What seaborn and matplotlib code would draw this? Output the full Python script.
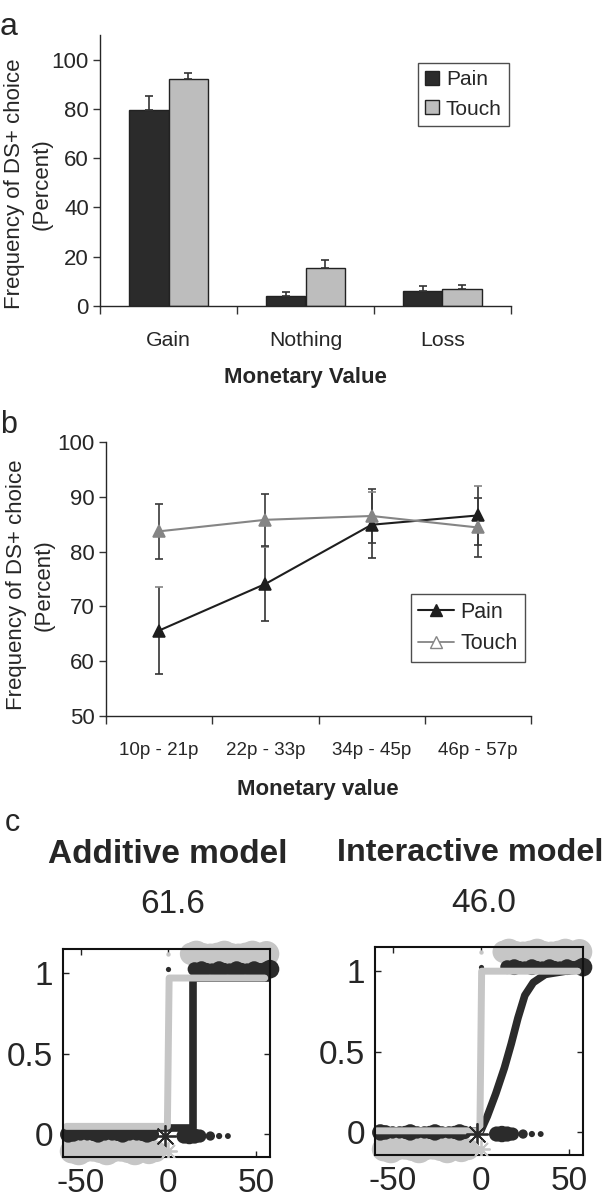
import matplotlib
matplotlib.use('Agg')
import matplotlib.pyplot as plt
from matplotlib import font_manager
from matplotlib.lines import Line2D
from matplotlib.patches import Patch
import pandas as pd
import seaborn as sns

# panel a: DS+ choice by monetary value
value_types = ['Gain', 'Nothing', 'Loss']
pain_choice = [79.6, 4.2, 6.2]
pain_sem = [5.6, 1.6, 1.9]
touch_choice = [92.2, 15.3, 6.8]
touch_sem = [2.4, 3.3, 1.7]

# panel b: DS+ choice by gain size
value_bins = ['10p - 21p', '22p - 33p', '34p - 45p', '46p - 57p']
pain_bin_choice = [65.6, 74.1, 84.9, 86.6]
pain_bin_sem = [8.0, 6.7, 6.0, 5.4]
touch_bin_choice = [83.7, 85.8, 86.5, 84.4]
touch_bin_sem = [5.0, 4.8, 4.9, 5.3]

# panel c: observed choices (shared by both models), counts give the blob size
pain_avoid_x = [-57, -54, -50, -46, -43, -40, -36, -32, -29, -26, -22, -18, -15, -12, -9]
pain_avoid_n = [14, 11, 8, 8, 9, 14, 8, 8, 9, 14, 8, 8, 9, 14, 9]
touch_avoid_x = [-55, -51, -47, -43, -39, -35, -31, -27, -23, -19, -15, -11, -7]
touch_avoid_n = [30, 40, 24, 22, 28, 40, 24, 22, 28, 40, 24, 34, 24]
pain_accept_x = [15, 19, 22, 25, 29, 32, 35, 39, 42, 45, 49, 52, 55, 58]
pain_accept_n = [10, 13, 8, 7, 13, 8, 7, 13, 8, 7, 13, 8, 10, 18]
touch_accept_x = [13, 16, 20, 24, 28, 32, 36, 40, 44, 48, 52, 56]
touch_accept_n = [26, 36, 24, 22, 26, 36, 24, 22, 26, 36, 26, 34]
pain_mixed_x = [9, 12, 15, 18, 24, 29, 34]
pain_mixed_n = [12, 14, 12, 9, 4.5, 2, 1.8]

# panel c: model fits
add_pain_x = [-58, 14, 14, 58]
add_pain_y = [0.04, 0.04, 0.97, 0.97]
add_touch_x = [-58, -0.5, 0.5, 55]
add_touch_y = [0.05, 0.05, 0.97, 0.97]
int_pain_x = [-58, 0, 3.7, 8.5, 13.4, 17.3, 21.1, 25, 29.8, 36.6, 48, 58]
int_pain_y = [0.0, 0.01, 0.10, 0.24, 0.40, 0.55, 0.71, 0.85, 0.93, 0.98, 1.0, 1.01]
int_touch_x = [-59, -0.5, 0.5, 55]
int_touch_y = [0.01, 0.01, 1.0, 1.0]

DARK = '#2b2b2b'
LIGHT = '#c6c6c6'
BAR_GRAY = '#bdbdbd'
MID = '#858585'

sns.set_style('ticks')
plt.rcParams['font.family'] = ['Liberation Sans', 'DejaVu Sans']
plt.rcParams['axes.linewidth'] = 1.0
plt.rcParams['axes.unicode_minus'] = False

installed = {f.name for f in font_manager.fontManager.ttflist}
if 'Liberation Sans Narrow' in installed:
    bin_font, bin_size = ['Liberation Sans Narrow', 'Liberation Sans'], 15.5
else:
    bin_font, bin_size = ['Liberation Sans', 'DejaVu Sans'], 13.5

fig = plt.figure(figsize=(6.04, 11.99), dpi=100)
W, H = 604.0, 1199.0


def px_axes(left, top, right, bottom):
    return fig.add_axes([left / W, 1 - bottom / H, (right - left) / W, (bottom - top) / H])


def category_ticks(ax, n, pad):
    ax.set_xticks(range(n))
    ax.set_xticks([i - 0.5 for i in range(n + 1)], minor=True)
    ax.tick_params(axis='x', which='major', length=0, pad=pad)
    ax.tick_params(axis='x', which='minor', length=6, width=1, direction='out', color='#333333')


def y_label(x, y):
    fig.text(x / W, 1 - y / H, 'Frequency of DS+ choice\n(Percent)', rotation=90,
             ha='center', va='center', multialignment='center', fontsize=16, linespacing=1.4)


# ---- panel a
ax_a = px_axes(100, 35, 511, 306)
df_a = pd.DataFrame({
    'Value': value_types * 2,
    'Group': ['Pain'] * 3 + ['Touch'] * 3,
    'Choice': pain_choice + touch_choice,
})
sns.barplot(data=df_a, x='Value', y='Choice', hue='Group', order=value_types,
            palette={'Pain': DARK, 'Touch': BAR_GRAY}, width=0.57, errorbar=None,
            edgecolor='#222222', linewidth=1, saturation=1, legend=False, ax=ax_a)
for i, sem in enumerate((pain_sem, touch_sem)):
    cont = ax_a.containers[i]
    xs = [p.get_x() + p.get_width() / 2 for p in cont.patches]
    ys = [p.get_height() for p in cont.patches]
    ax_a.errorbar(xs, ys, yerr=[[0] * len(sem), sem], fmt='none', ecolor='#333333',
                  elinewidth=1.2, capsize=3.2, capthick=1.2, zorder=1)
ax_a.set_ylim(0, 110)
ax_a.set_xlim(-0.5, 2.5)
ax_a.set_yticks(range(0, 101, 20))
ax_a.tick_params(axis='y', length=5, width=1, labelsize=16, pad=3, color='#333333')
category_ticks(ax_a, 3, 18)
ax_a.tick_params(axis='x', labelsize=15.3)
ax_a.set_xlabel('')
ax_a.set_ylabel('')
sns.despine(ax=ax_a)
ax_a.legend(handles=[Patch(facecolor=DARK, edgecolor='#222222', label='Pain'),
                     Patch(facecolor=BAR_GRAY, edgecolor='#222222', label='Touch')],
            loc='upper right', bbox_to_anchor=(509 / W, 1 - 63 / H), bbox_transform=fig.transFigure,
            borderaxespad=0, fancybox=False, edgecolor='#222222', fontsize=15,
            handlelength=0.65, handleheight=0.65, handletextpad=0.35, borderpad=0.35,
            labelspacing=0.5)
fig.text(305.5 / W, 1 - 383 / H, 'Monetary Value', fontsize=16, fontweight='bold',
         ha='center', va='baseline')
y_label(28, 184)
fig.text(0, 1 - 35 / H, 'a', fontsize=23, va='baseline', ha='left')

# ---- panel b
ax_b = px_axes(106, 442, 531, 716)
df_b = pd.DataFrame({
    'Value': value_bins * 2,
    'Group': ['Pain'] * 4 + ['Touch'] * 4,
    'Choice': pain_bin_choice + touch_bin_choice,
})
ax_b.errorbar(range(4), pain_bin_choice, yerr=pain_bin_sem, fmt='none', ecolor='#333333',
              elinewidth=1.2, capsize=3, capthick=1.2, zorder=1)
ax_b.errorbar(range(4), touch_bin_choice, yerr=touch_bin_sem, fmt='none', ecolor='#3a3a3a',
              elinewidth=1.2, capsize=3, capthick=1.2, zorder=1)
sns.pointplot(data=df_b, x='Value', y='Choice', hue='Group', order=value_bins,
              palette={'Pain': '#1e1e1e', 'Touch': MID}, markers=['^', '^'],
              markersize=9, linewidth=1.5, errorbar=None, legend=False, ax=ax_b)
for ln in ax_b.lines:
    ln.set_zorder(3)
touch_line = [ln for ln in ax_b.lines if len(ln.get_xdata()) == 4][1]
touch_line.set_markerfacecolor('white')
touch_line.set_markeredgecolor(MID)
touch_line.set_linewidth(1.3)
ax_b.set_ylim(50, 100)
ax_b.set_xlim(-0.5, 3.5)
ax_b.set_yticks(range(50, 101, 10))
ax_b.tick_params(axis='y', length=5, width=1, labelsize=16, pad=3, color='#333333')
category_ticks(ax_b, 4, 19)
ax_b.set_xticklabels(value_bins, fontfamily=bin_font, fontsize=bin_size)
ax_b.set_xlabel('')
ax_b.set_ylabel('')
sns.despine(ax=ax_b)
ax_b.legend(handles=[Line2D([0], [0], color='#1e1e1e', marker='^', markersize=9, lw=1.5,
                            mfc='#1e1e1e', label='Pain'),
                     Line2D([0], [0], color=MID, marker='^', markersize=9, lw=1.3,
                            mfc='white', mec=MID, label='Touch')],
            loc='upper right', bbox_to_anchor=(525 / W, 1 - 594 / H), bbox_transform=fig.transFigure,
            borderaxespad=0, fancybox=False, edgecolor='#222222', fontsize=15.5,
            handlelength=1.65, handletextpad=0.3, borderpad=0.35, labelspacing=0.5)
fig.text(318 / W, 1 - 795 / H, 'Monetary value', fontsize=16, fontweight='bold',
         ha='center', va='baseline')
y_label(30, 585)
fig.text(0, 1 - 433 / H, 'b', fontsize=22, va='baseline', ha='left')


# ---- panel c
def blobs(ax, xs, ys, counts, color):
    sns.scatterplot(x=xs, y=ys, s=[n * 10 for n in counts], color=color,
                    linewidth=0, clip_on=False, ax=ax)


def draw_model(ax, pain_x, pain_y, touch_x, touch_y):
    blobs(ax, touch_accept_x, [1.12] * len(touch_accept_x), touch_accept_n, LIGHT)
    blobs(ax, pain_accept_x, [1.025] * len(pain_accept_x), pain_accept_n, DARK)
    blobs(ax, touch_avoid_x, [-0.105] * len(touch_avoid_x), touch_avoid_n, LIGHT)
    blobs(ax, pain_avoid_x, [0.0] * len(pain_avoid_x), pain_avoid_n, DARK)
    blobs(ax, pain_mixed_x, [-0.01] * len(pain_mixed_x), pain_mixed_n, DARK)
    blobs(ax, [0], [1.025], [1.4], DARK)
    blobs(ax, [0], [1.12], [1.0], LIGHT)
    sns.lineplot(x=pain_x, y=pain_y, color=DARK, linewidth=5.5, sort=False, estimator=None,
                 solid_joinstyle='round', ax=ax)
    sns.lineplot(x=touch_x, y=touch_y, color=LIGHT, linewidth=5, sort=False, estimator=None,
                 solid_joinstyle='round', ax=ax)
    ax.plot([-2], [-0.01], marker=(8, 2, 0), markersize=16, color=DARK, mew=1.3, zorder=5)
    ax.plot([0], [-0.1], marker=(8, 2, 0), markersize=13, color=LIGHT, mew=1.3, zorder=5)
    ax.set_xlim(-60, 58)
    ax.set_ylim(-0.14, 1.15)
    ax.set_xticks([-50, 0, 50])
    ax.set_yticks([0, 0.5, 1])
    ax.set_yticklabels(['0', '0.5', '1'])
    ax.tick_params(direction='in', length=4, width=1, top=True, right=True,
                   labelsize=24, color='#222222')
    ax.tick_params(axis='x', pad=8)
    ax.tick_params(axis='y', pad=7)
    for sp in ax.spines.values():
        sp.set_linewidth(1.5)
        sp.set_color('#111111')
    ax.set_xlabel('')
    ax.set_ylabel('')


ax_c1 = px_axes(63, 949, 270, 1157)
draw_model(ax_c1, add_pain_x, add_pain_y, add_touch_x, add_touch_y)
ax_c2 = px_axes(375, 947, 583, 1155)
draw_model(ax_c2, int_pain_x, int_pain_y, int_touch_x, int_touch_y)

fig.text(5 / W, 1 - 831 / H, 'c', fontsize=22, va='baseline', ha='left')
fig.text(168 / W, 1 - 863 / H, 'Additive model', fontsize=24, fontweight='bold',
         ha='center', va='baseline')
fig.text(470 / W, 1 - 861 / H, 'Interactive model', fontsize=23.3, fontweight='bold',
         ha='center', va='baseline')
fig.text(173 / W, 1 - 913 / H, '61.6', fontsize=24, ha='center', va='baseline')
fig.text(484 / W, 1 - 912 / H, '46.0', fontsize=24, ha='center', va='baseline')

fig.savefig('out.png', dpi=100)
